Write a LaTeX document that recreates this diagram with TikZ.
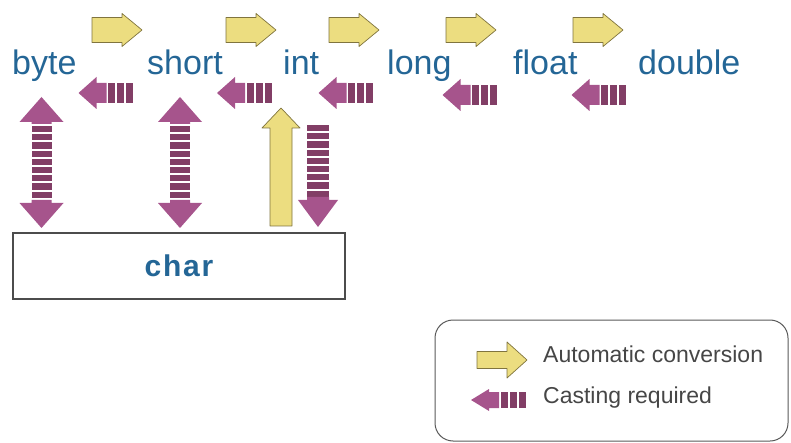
\documentclass[tikz,border=0pt]{standalone}
\usepackage{fontspec}
\setmainfont{Liberation Sans}
\usetikzlibrary{positioning}
\definecolor{typeblue}{RGB}{36,102,150}
\definecolor{autoyellow}{RGB}{236,221,128}
\definecolor{autoedge}{RGB}{128,116,62}
\definecolor{casthead}{RGB}{166,84,140}
\definecolor{castbar}{RGB}{130,62,102}
\definecolor{legendgray}{RGB}{70,70,70}
\tikzset{
  typelabel/.style = {text=typeblue, inner sep=0pt, anchor=base west, font=\fontsize{34}{34}\selectfont},
  legendtext/.style = {text=legendgray, inner sep=0pt, anchor=base west, font=\fontsize{23}{23}\selectfont},
  charbox/.style = {draw=black!70, line width=1.2pt, minimum width=332pt, minimum height=66pt, inner sep=0pt,
                    text=typeblue, font=\fontsize{30}{30}\selectfont\bfseries\addfontfeature{LetterSpace=6}},
  legendbox/.style = {draw=black!65, line width=1pt, rounded corners=18pt, minimum width=353pt, minimum height=121pt},
  autofill/.style = {fill=autoyellow, draw=autoedge, line width=0.7pt, line join=round},
  castfill/.style = {fill=casthead},
  barfill/.style = {fill=castbar},
  % yellow arrow to the right: #1 body half height, #2 head half height
  pics/autoright/.style 2 args = {code={
    \draw[autofill] (-25,-#1) -- (5,-#1) -- (5,-#2) -- (25,0) -- (5,#2) -- (5,#1) -- (-25,#1) -- cycle;
  }},
  % yellow arrow upwards, tip at the origin
  pics/autoup/.style = {code={
    \draw[autofill] (0,0) -- (19,20) -- (11,20) -- (11,118) -- (-11,118) -- (-11,20) -- (-19,20) -- cycle;
  }},
  % purple arrow to the left with three bars
  pics/castleft/.style 2 args = {code={
    \fill[castfill] (-28,0) -- (-10,-#2) -- (-10,-#1) -- (0,-#1) -- (0,#1) -- (-10,#1) -- (-10,#2) -- cycle;
    \foreach \i in {0,1,2}
      \fill[barfill] (1.5+9*\i,-#1) rectangle ++(7,2*#1);
  }},
  % purple arrow both ways, top tip at the origin
  pics/castboth/.style = {code={
    \fill[castfill] (0,0) -- (22,25) -- (10,25) -- (10,27) -- (-10,27) -- (-10,25) -- (-22,25) -- cycle;
    \foreach \i in {0,...,8}
      \fill[barfill] (-10,29+8.2*\i) rectangle ++(20,6.2);
    \fill[castfill] (0,131) -- (22,106) -- (10,106) -- (10,103) -- (-10,103) -- (-10,106) -- (-22,106) -- cycle;
  }},
  % purple arrow downwards, tip at the origin
  pics/castdown/.style = {code={
    \foreach \i in {0,...,8}
      \fill[barfill] (-11,-102+8.2*\i) rectangle ++(22,6.2);
    \fill[castfill] (0,0) -- (20,-27) -- (11,-27) -- (11,-30) -- (-11,-30) -- (-11,-27) -- (-20,-27) -- cycle;
  }},
}
\begin{document}
\begin{tikzpicture}[x=1pt, y=-1pt]
\useasboundingbox (0,0) rectangle (791,443);

% the six number types
\node[typelabel] (byte)   at (12,75)  {byte};
\node[typelabel] (short)  at (147,75) {short};
\node[typelabel] (int)    at (283,75) {int};
\node[typelabel] (long)   at (387,75) {long};
\node[typelabel] (float)  at (513,75) {float};
\node[typelabel] (double) at (638,75) {double};

% widening: automatic
\pic (byteshort)   at (117,30) {autoright={12.5}{16.5}};
\pic (shortint)    at (251,30) {autoright={12.5}{16.5}};
\pic (intlong)     at (354,30) {autoright={12.5}{16.5}};
\pic (longfloat)   at (471,30) {autoright={12.5}{16.5}};
\pic (floatdouble) at (598,30) {autoright={12.5}{16.5}};

% narrowing: cast
\pic (shortbyte)   at (106.5,93) {castleft={10}{16}};
\pic (intshort)    at (245,93)   {castleft={10}{16}};
\pic (longint)     at (346.5,93) {castleft={10}{16}};
\pic (floatlong)   at (470.5,95) {castleft={10}{16}};
\pic (doublefloat) at (599.5,95) {castleft={10}{16}};

% char and its links
\node[charbox] (char) at (179,266) {char};
\pic (bytechar)  at (41.5,97) {castboth};
\pic (shortchar) at (180,97)  {castboth};
\pic (charint)   at (281,108) {autoup};
\pic (intchar)   at (318,227) {castdown};

% legend
\node[legendbox] (legend) at (611.5,380.5) {};
\pic (autokey) at (502,360) {autoright={8.5}{18}};
\pic (castkey) at (499,400) {castleft={8}{11}};
\node[legendtext] (autotext) at (543,362) {Automatic conversion};
\node[legendtext] (casttext) at (543,403) {Casting required};

\end{tikzpicture}
\end{document}
